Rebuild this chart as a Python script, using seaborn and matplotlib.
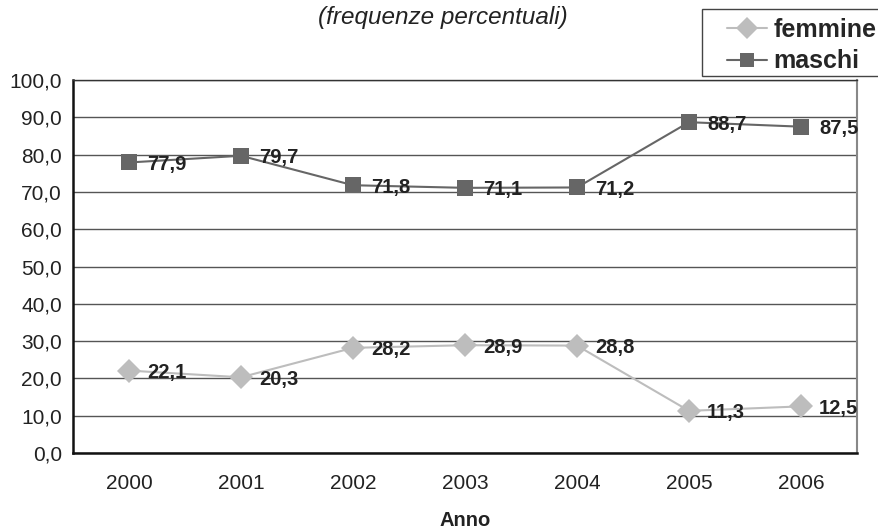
import matplotlib
matplotlib.use("Agg")
import matplotlib.pyplot as plt
from matplotlib.ticker import FuncFormatter, FixedLocator
from matplotlib.lines import Line2D
from matplotlib.patches import Rectangle
import seaborn as sns
import pandas as pd

anni = ["2000", "2001", "2002", "2003", "2004", "2005", "2006"]
femmine = [22.1, 20.3, 28.2, 28.9, 28.8, 11.3, 12.5]
maschi = [77.9, 79.7, 71.8, 71.1, 71.2, 88.7, 87.5]

df = pd.DataFrame({
    "Anno": list(range(len(anni))) * 2,
    "valore": femmine + maschi,
    "sesso": ["femmine"] * len(anni) + ["maschi"] * len(anni),
})

sns.set_theme(style="white")
plt.rcParams["font.family"] = ["Liberation Sans", "DejaVu Sans"]

W, H = 879, 532
fig = plt.figure(figsize=(W / 100, H / 100), dpi=100)
ax = fig.add_axes([0.083, 0.1485, 0.892, 0.701])

palette = {"femmine": "#bdbdbd", "maschi": "#666666"}
markers = {"femmine": "D", "maschi": "s"}
sns.lineplot(data=df, x="Anno", y="valore", hue="sesso", style="sesso",
             palette=palette, markers=markers, dashes=False,
             markersize=12, markeredgewidth=0, linewidth=1.5, ax=ax, legend=False)

for s, vals in (("femmine", femmine), ("maschi", maschi)):
    for i, v in enumerate(vals):
        ax.annotate(f"{v:.1f}".replace(".", ","), (i, v), xytext=(13, -1.5),
                    textcoords="offset points", ha="left", va="center",
                    fontsize=14.5, fontweight="bold", color="#222222")

ax.set_xlim(-0.5, len(anni) - 0.5)
ax.set_ylim(0, 100)
ax.set_yticks(range(0, 101, 10))
ax.yaxis.set_major_formatter(FuncFormatter(lambda v, p: f"{v:.1f}".replace(".", ",")))
ax.set_xticks(range(len(anni)))
ax.set_xticklabels(anni)
ax.xaxis.set_minor_locator(FixedLocator([i - 0.5 for i in range(len(anni) + 1)]))
ax.tick_params(axis="x", which="major", length=0, pad=15, labelsize=15, labelcolor="#222222")
ax.tick_params(axis="x", which="minor", length=6, width=1.2, color="#222222", direction="out")
ax.tick_params(axis="y", length=6, width=1.2, color="#222222", direction="out",
               labelsize=15, labelcolor="#222222", pad=2)
ax.grid(axis="y", color="#555555", linewidth=1.0)
ax.set_axisbelow(True)

for side in ("left", "bottom"):
    ax.spines[side].set_color("#111111")
    ax.spines[side].set_linewidth(1.8)
ax.spines["right"].set_color("#888888")
ax.spines["right"].set_linewidth(1.5)
ax.spines["top"].set_color("#333333")
ax.spines["top"].set_linewidth(1.0)

ax.set_ylabel("")
ax.set_xlabel("Anno", fontsize=14.5, fontweight="bold", color="#222222", labelpad=13)

fig.text(0.504, 0.968, "(frequenze percentuali)", ha="center", va="center",
         fontsize=17.5, style="italic", color="#222222")

# legend box running off the right edge of the figure
fig.patches.append(Rectangle((702 / W, 1 - 76 / H), 200 / W, 67 / H,
                             transform=fig.transFigure, facecolor="white",
                             edgecolor="#444444", linewidth=1.0, zorder=5))
handles = [Line2D([], [], color=palette["femmine"], marker="D", markersize=11,
                  markeredgewidth=0, linewidth=1.5),
           Line2D([], [], color=palette["maschi"], marker="s", markersize=10,
                  markeredgewidth=0, linewidth=1.5)]
leg = fig.legend(handles, ["femmine", "maschi"], loc="upper left",
                 bbox_to_anchor=(727 / W, 1 - 18 / H), frameon=False,
                 prop={"size": 18, "weight": "bold"}, handlelength=1.6,
                 handletextpad=0.25, borderpad=0.0, labelspacing=0.3,
                 borderaxespad=0.0)
leg.set_zorder(6)

fig.savefig("out.png", dpi=100)
